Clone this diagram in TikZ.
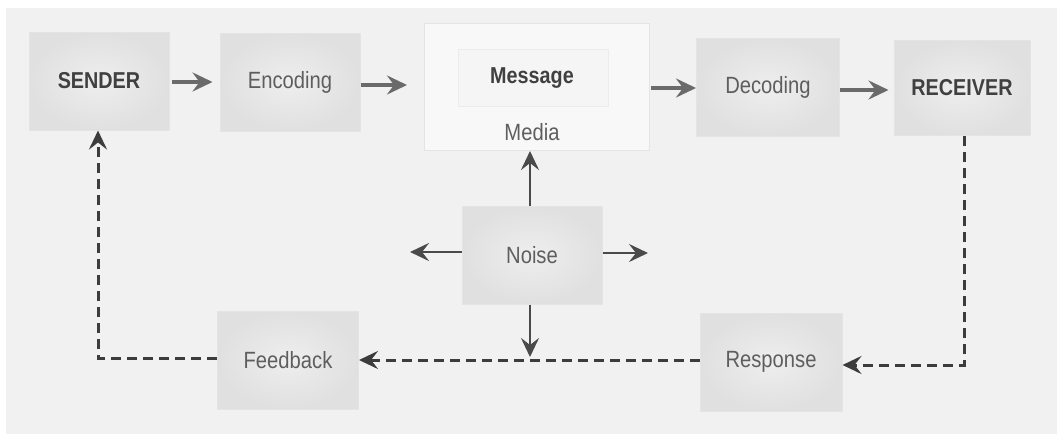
\documentclass[tikz,border=0pt]{standalone}
\usepackage{fontspec}
\setmainfont{Liberation Sans}[FakeStretch=0.86]
\usetikzlibrary{arrows.meta,calc}
\definecolor{bg}{HTML}{F1F1F1}
\definecolor{boxin}{HTML}{EEEEEE}
\definecolor{boxout}{HTML}{E0E0E0}
\definecolor{boxedge}{HTML}{E4E4E4}
\definecolor{panel}{HTML}{F8F8F8}
\definecolor{txt}{HTML}{5E5E5E}
\definecolor{txtb}{HTML}{404040}
\definecolor{arr}{HTML}{6A6A6A}
\definecolor{noisearr}{HTML}{4A4A4A}
\definecolor{dash}{HTML}{3C3C3C}
\begin{document}
\begin{tikzpicture}[x=1pt,y=-1pt,
  box/.style={rectangle, inner color=boxin, outer color=boxout, draw=boxedge, line width=1pt,
    minimum width=140pt, minimum height=98pt, text=txt,
    font=\fontsize{23.5}{27}\selectfont},
  boldbox/.style={box, text=txtb, font=\fontsize{23}{27}\selectfont\bfseries},
  lbl/.style={text=txt, font=\fontsize{23.5}{27}\selectfont},
  flow/.style={draw=arr, line width=3.2pt, -{Stealth[length=20pt,width=19pt,inset=7pt]}},
  noisy/.style={draw=noisearr, line width=2.8pt, -{Stealth[length=19pt,width=18pt,inset=7pt]}},
  back/.style={draw=dash, line width=3pt, dash pattern=on 10pt off 6pt,
    -{Stealth[length=19pt,width=18pt,inset=7pt]}}
]
\useasboundingbox (0,0) rectangle (1057,434);
\fill[white] (0,0) rectangle (1057,434);
\fill[bg] (6,8) rectangle (1057,434);

% Message / Media panel
\node[rectangle, fill=panel, draw=boxedge, line width=1pt,
  minimum width=225pt, minimum height=127pt] (msgpanel) at (537,87) {};
\node[rectangle, fill=panel!60!bg, draw=boxedge!60!panel, line width=1pt,
  minimum width=150pt, minimum height=57pt] (msginner) at (533,78) {};
\node[text=txtb, font=\fontsize{23}{27}\selectfont\bfseries] (message) at (532,78) {Message};
\node[lbl] (media) at (532,132) {Media};

% Boxes
\node[boldbox] (sender) at (99,81) {SENDER};
\node[box] (encoding) at (290,82) {Encoding};
\node[box, minimum width=143pt] (decoding) at (768,87) {Decoding};
\node[boldbox, minimum width=136pt, minimum height=95pt] (receiver) at (962,88) {RECEIVER};
\node[box] (noise) at (532,255) {Noise};
\node[box, minimum width=141pt] (feedback) at (288,360) {Feedback};
\node[box, minimum width=142pt] (response) at (771,362) {Response};

% forward flow
\draw[flow, shorten <=2pt, shorten >=7pt] (sender.east |- 0,82) -- (encoding.west |- 0,82);
\draw[flow, shorten <=0pt, shorten >=17pt] (encoding.east |- 0,85) -- (msgpanel.west |- 0,85);
\draw[flow, shorten <=1pt, shorten >=0pt] (msgpanel.east |- 0,88) -- (decoding.west |- 0,88);
\draw[flow, shorten <=0pt, shorten >=5pt] (decoding.east |- 0,90) -- (receiver.west |- 0,90);

% noise
\coordinate (noiseL) at (410,252);
\coordinate (noiseR) at (648,253);
\coordinate (noiseD) at (530,357);
\draw[noisy] (noise.north -| 530,0) -- (msgpanel.south -| 530,0);
\draw[noisy] (noise.west |- noiseL) -- (noiseL);
\draw[noisy] (noise.east |- noiseR) -- (noiseR);
\draw[noisy] (noise.south -| noiseD) -- (noiseD);

% feedback loop
\coordinate (rcorner) at (964,365);
\draw[back] (receiver.south -| rcorner) -- (rcorner) -- (response.east |- rcorner);
\draw[back] (response.west |- 0,360) -- (feedback.east |- 0,360);
\coordinate (lcorner) at (98,358);
\draw[back] (feedback.west |- lcorner) -- (lcorner) -- (sender.south -| lcorner);
\end{tikzpicture}
\end{document}
